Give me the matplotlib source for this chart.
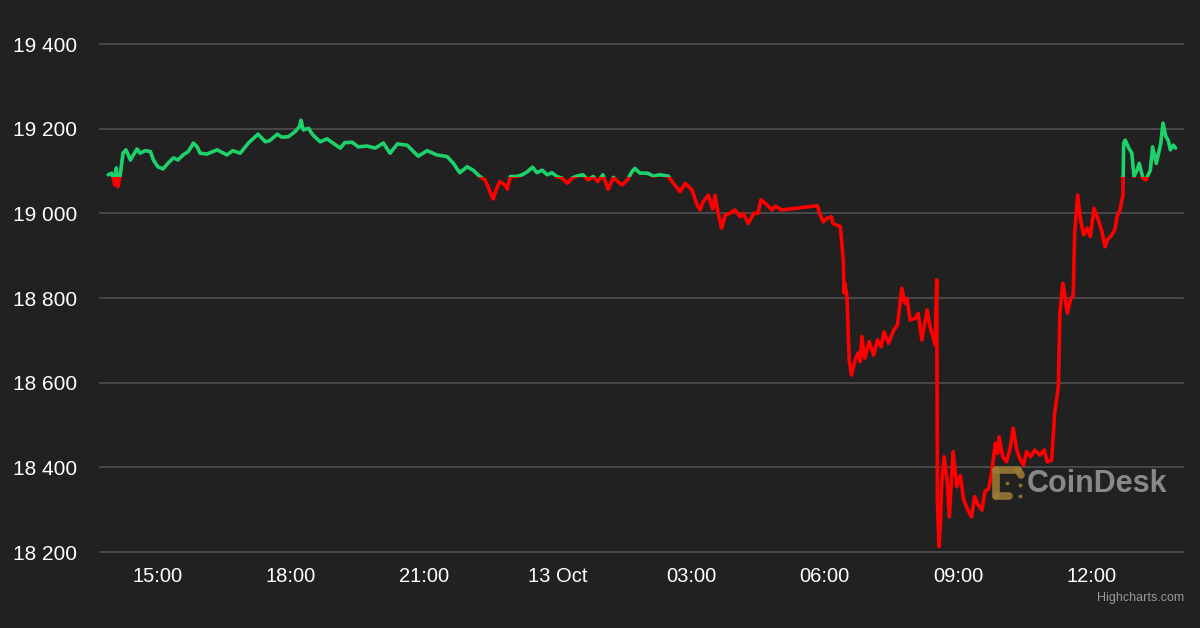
import matplotlib
matplotlib.use("Agg")
import matplotlib.pyplot as plt
from matplotlib.patches import Rectangle
from matplotlib.lines import Line2D

# minutes after 12 Oct 14:00
minutes = [-6, -1, 3, 5, 7, 10, 14, 18, 24, 28,
           33, 37, 44, 51, 55, 61, 68, 75, 82, 88,
           95, 102, 109, 114, 118, 127, 141, 154, 162, 172,
           183, 196, 206, 212, 222, 228, 237, 246, 252, 254,
           257, 264, 270, 280, 289, 297, 307, 313, 323, 331,
           343, 354, 365, 374, 384, 397, 412, 424, 437, 451,
           459, 468, 478, 486, 495, 502, 506, 513, 518, 522,
           529, 532, 536, 545, 552, 559, 566, 572, 579, 586,
           592, 599, 606, 613, 619, 626, 634, 641, 648, 654,
           661, 668, 675, 681, 687, 694, 700, 704, 711, 721,
           729, 738, 749, 756, 765, 772, 781, 788, 792, 796,
           803, 809, 812, 816, 821, 826, 832, 839, 846, 850,
           857, 864, 870, 874, 882, 889, 893, 902, 950, 954,
           958, 963, 969, 971, 981, 985, 986, 987, 990, 993,
           996, 1001, 1005, 1008, 1010, 1014, 1020, 1026, 1031, 1036,
           1040, 1046, 1053, 1058, 1064, 1068, 1071, 1075, 1082, 1086,
           1091, 1098, 1102, 1106, 1109, 1111, 1112, 1114, 1116, 1118,
           1121, 1125, 1128, 1133, 1138, 1143, 1147, 1153, 1158, 1162,
           1167, 1172, 1176, 1181, 1185, 1190, 1193, 1195, 1200, 1205,
           1210, 1214, 1219, 1223, 1228, 1232, 1238, 1243, 1250, 1256,
           1260, 1266, 1270, 1275, 1277, 1281, 1284, 1287, 1291, 1295,
           1297, 1301, 1305, 1309, 1314, 1318, 1323, 1329, 1333, 1338,
           1341, 1347, 1351, 1354, 1358, 1362, 1363, 1365, 1370, 1374,
           1377, 1381, 1384, 1389, 1393, 1399, 1402, 1407, 1410, 1413,
           1416, 1420, 1423, 1426, 1430, 1433]

prices = [19091, 19095, 19067, 19107, 19063, 19087, 19142, 19150, 19126, 19138,
          19152, 19142, 19148, 19146, 19126, 19110, 19105, 19119, 19131, 19126,
          19138, 19146, 19166, 19157, 19142, 19140, 19150, 19138, 19148, 19142,
          19166, 19187, 19169, 19172, 19187, 19180, 19181, 19193, 19205, 19220,
          19197, 19201, 19185, 19169, 19176, 19166, 19154, 19167, 19168, 19157,
          19159, 19154, 19166, 19142, 19164, 19161, 19135, 19148, 19138, 19134,
          19119, 19096, 19110, 19102, 19087, 19079, 19063, 19034, 19060, 19075,
          19067, 19057, 19087, 19087, 19091, 19098, 19109, 19096, 19102, 19091,
          19096, 19087, 19083, 19071, 19083, 19088, 19091, 19079, 19087, 19075,
          19091, 19057, 19085, 19075, 19067, 19079, 19098, 19106, 19095, 19095,
          19088, 19091, 19088, 19071, 19051, 19071, 19055, 19020, 19008, 19027,
          19043, 19010, 19043, 19004, 18965, 18996, 19000, 19008, 18992, 19000,
          18976, 19000, 19000, 19032, 19020, 19008, 19017, 19008, 19018, 18996,
          18980, 18988, 18992, 18976, 18969, 18890, 18812, 18835, 18803, 18654,
          18618, 18654, 18670, 18650, 18709, 18658, 18697, 18665, 18701, 18685,
          18720, 18693, 18724, 18736, 18823, 18788, 18799, 18748, 18752, 18764,
          18701, 18772, 18732, 18709, 18689, 18843, 18316, 18213, 18268, 18370,
          18425, 18370, 18283, 18437, 18354, 18380, 18325, 18299, 18283, 18331,
          18311, 18299, 18343, 18350, 18386, 18457, 18433, 18472, 18425, 18413,
          18445, 18492, 18441, 18421, 18405, 18437, 18425, 18441, 18429, 18441,
          18413, 18417, 18528, 18591, 18764, 18835, 18803, 18764, 18795, 18807,
          18953, 19043, 18984, 18949, 18965, 18945, 19012, 18984, 18961, 18921,
          18937, 18949, 18961, 18992, 19008, 19043, 19165, 19173, 19154, 19142,
          19087, 19102, 19118, 19083, 19079, 19102, 19157, 19118, 19142, 19165,
          19213, 19181, 19173, 19150, 19161, 19154]

threshold = 19085

y_ticks = [18200, 18400, 18600, 18800, 19000, 19200, 19400]
y_labels = ["18 200", "18 400", "18 600", "18 800", "19 000", "19 200", "19 400"]
x_ticks = [60, 240, 420, 600, 780, 960, 1140, 1320]
x_labels = ["15:00", "18:00", "21:00", "13 Oct", "03:00", "06:00", "09:00", "12:00"]

BG = "#212121"
GREEN = "#1ed26b"
RED = "#ff0000"

plt.rcParams["font.family"] = ["Liberation Sans", "DejaVu Sans"]

fig = plt.figure(figsize=(12, 6.28), dpi=100, facecolor=BG)
ax = fig.add_axes([100 / 1200, 76 / 628, 1083 / 1200, 508 / 628])
ax.set_facecolor(BG)
ax.set_xlim(-17, 1443)
ax.set_ylim(18200, 19400)

for v in y_ticks:
    ax.axhline(v, color="#4c4c4c", lw=1.3, zorder=1, clip_on=False)

line_r, = ax.plot(minutes, prices, color=RED, lw=2.6, zorder=3,
                  solid_joinstyle="round", solid_capstyle="round")
line_g, = ax.plot(minutes, prices, color=GREEN, lw=2.6, zorder=3,
                  solid_joinstyle="round", solid_capstyle="round")
clip_g = Rectangle((-10000, threshold), 30000, 10000, transform=ax.transData)
clip_r = Rectangle((-10000, threshold - 10000), 30000, 10000, transform=ax.transData)
line_g.set_clip_path(clip_g)
line_r.set_clip_path(clip_r)

ax.set_yticks(y_ticks)
ax.set_yticklabels(y_labels)
ax.set_xticks(x_ticks)
ax.set_xticklabels(x_labels)
ax.tick_params(axis="y", length=0, pad=16.5, labelsize=15, labelcolor="white")
ax.tick_params(axis="x", length=0, pad=11, labelsize=14.5, labelcolor="white")
for s in ax.spines.values():
    s.set_visible(False)

# CoinDesk watermark
def fy(y):
    return 1 - y / 628

gold = "#9a7734"
segs = [((996, 470), (1018, 470)), ((996, 470), (996, 496)), ((996, 496), (1009, 496)),
        ((1018, 470), (1021, 475))]
for (x0, y0), (x1, y1) in segs:
    fig.add_artist(Line2D([x0 / 1200, x1 / 1200], [fy(y0), fy(y1)], color=gold, lw=5.5,
                          solid_capstyle="round", alpha=0.9, zorder=4))
for (x0, y0) in [(1007, 483), (1020, 485), (1020, 496)]:
    fig.add_artist(Line2D([x0 / 1200], [fy(y0)], marker="o", markersize=2.8, color=gold,
                          markeredgewidth=0, alpha=0.9, zorder=4))
fig.text(1027 / 1200, fy(484), "CoinDesk", color="#8e8e8e", fontsize=22, fontweight="bold",
         ha="left", va="center", alpha=0.95, zorder=4)

fig.text(1184 / 1200, fy(598), "Highcharts.com", color="#999999", fontsize=9,
         ha="right", va="center")

fig.savefig("out.png", dpi=100, facecolor=BG)
